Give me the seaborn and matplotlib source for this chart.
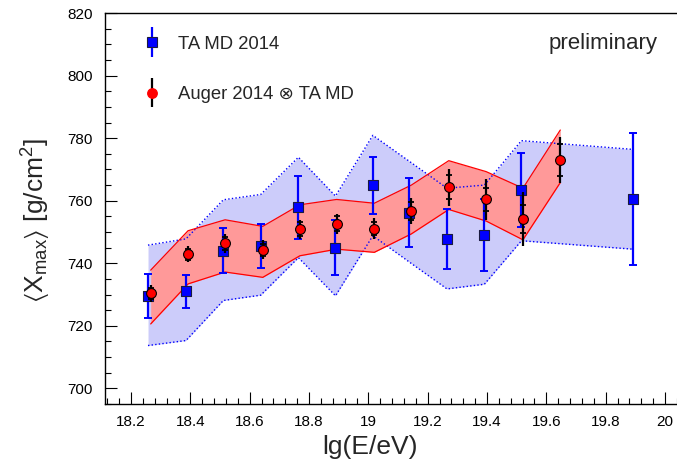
import numpy as np
import pandas as pd
import matplotlib
matplotlib.use("Agg")
import matplotlib.pyplot as plt
from matplotlib.ticker import MultipleLocator
from matplotlib.container import ErrorbarContainer
from matplotlib.legend_handler import HandlerErrorbar
import seaborn as sns

# TA MD 2014: mean Xmax per energy bin with total errors and systematic band
ta_lg = [18.257, 18.385, 18.511, 18.637, 18.764, 18.889, 19.015, 19.138, 19.265, 19.391, 19.516, 19.893]
ta_xmax = [729.6, 731.1, 744.0, 745.6, 757.9, 745.0, 764.9, 756.2, 747.8, 749.0, 763.4, 760.5]
ta_err = [7.0, 5.3, 7.2, 7.0, 10.0, 8.7, 9.0, 11.0, 9.5, 11.4, 11.8, 21.0]
ta_sys_hi = [745.8, 747.8, 760.3, 762.0, 773.9, 761.5, 780.9, 772.6, 764.0, 765.0, 779.2, 776.4]
ta_sys_lo = [713.7, 715.3, 728.1, 729.8, 741.8, 729.6, 748.8, 740.4, 731.8, 733.3, 747.2, 744.5]

# Auger 2014 folded with TA MD detector response
au_lg = [18.266, 18.392, 18.517, 18.644, 18.769, 18.893, 19.020, 19.145, 19.271, 19.397, 19.521, 19.647]
au_xmax = [730.4, 742.9, 746.4, 744.3, 750.9, 752.7, 751.1, 756.7, 764.3, 760.5, 754.2, 773.0]
au_err_tot = [2.7, 2.5, 3.0, 3.0, 3.0, 3.2, 3.4, 4.2, 5.9, 6.6, 8.7, 7.3]
au_err_stat = [1.8, 1.8, 2.0, 2.0, 2.2, 2.3, 2.2, 2.8, 3.9, 3.7, 4.5, 5.2]
au_sys_hi = [737.8, 750.4, 753.9, 751.8, 758.7, 760.4, 759.2, 765.0, 772.8, 769.3, 764.0, 782.6]
au_sys_lo = [720.6, 733.4, 737.2, 735.5, 742.4, 744.5, 743.5, 749.4, 757.2, 753.5, 747.5, 765.8]

x_ticks = [18.2, 18.4, 18.6, 18.8, 19.0, 19.2, 19.4, 19.6, 19.8, 20.0]
x_ticklabels = ["18.2", "18.4", "18.6", "18.8", "19", "19.2", "19.4", "19.6", "19.8", "20"]
y_ticks = [700, 720, 740, 760, 780, 800, 820]

ta = pd.DataFrame({"lg": ta_lg, "xmax": ta_xmax, "err": ta_err,
                   "hi": ta_sys_hi, "lo": ta_sys_lo})
au = pd.DataFrame({"lg": au_lg, "xmax": au_xmax, "tot": au_err_tot,
                   "stat": au_err_stat, "hi": au_sys_hi, "lo": au_sys_lo})

sns.set_theme(style="ticks")
plt.rcParams["font.family"] = ["Liberation Sans", "DejaVu Sans"]
plt.rcParams["mathtext.fontset"] = "custom"
plt.rcParams["mathtext.rm"] = "Liberation Sans"
plt.rcParams["mathtext.it"] = "Liberation Sans"
plt.rcParams["mathtext.fallback"] = "stixsans"
plt.rcParams["axes.linewidth"] = 1.0
plt.rcParams["axes.edgecolor"] = "black"

fig = plt.figure(figsize=(6.77, 4.66), dpi=100)
ax = fig.add_axes([0.1551, 0.1330, 0.871, 0.839])

BLUE = "#0000ff"
RED = "#ff0000"

# systematic bands
ax.fill_between(ta["lg"], ta["lo"], ta["hi"], color="#ccccfa", lw=0, zorder=1)
ax.fill_between(au["lg"], au["lo"], au["hi"], color="#ff9999", lw=0, zorder=2)
for col in ("hi", "lo"):
    sns.lineplot(data=ta, x="lg", y=col, ax=ax, color=BLUE, lw=1.0,
                 sort=False, zorder=3, linestyle=(0, (1, 1.6)))
    sns.lineplot(data=au, x="lg", y=col, ax=ax, color=RED, lw=0.9,
                 sort=False, zorder=3)

# TA MD points
ax.errorbar(ta["lg"], ta["xmax"], yerr=ta["err"], fmt="none", ecolor=BLUE,
            elinewidth=1.6, capsize=3, capthick=1.4, zorder=4)
sns.scatterplot(data=ta, x="lg", y="xmax", ax=ax, marker="s", s=46,
                color=BLUE, edgecolor="#1a1a40", linewidth=0.8, zorder=5)

# Auger folded points: total error line with stat caps
ax.errorbar(au["lg"], au["xmax"], yerr=au["tot"], fmt="none", ecolor="black",
            elinewidth=1.6, capsize=0, zorder=6)
ax.errorbar(au["lg"], au["xmax"], yerr=au["stat"], fmt="none", ecolor="black",
            elinewidth=0, capsize=2.5, capthick=1.3, zorder=6)
sns.scatterplot(data=au, x="lg", y="xmax", ax=ax, marker="o", s=50,
                color=RED, edgecolor="black", linewidth=0.8, zorder=7)

ax.set_xlim(18.112, 20.1)
ax.set_ylim(695, 820)
ax.set_xticks(x_ticks)
ax.set_xticklabels(x_ticklabels)
ax.set_yticks(y_ticks)
ax.xaxis.set_minor_locator(MultipleLocator(0.04))
ax.yaxis.set_minor_locator(MultipleLocator(5))
ax.tick_params(which="both", direction="in", width=0.8, colors="black",
               labelsize=11, top=False, right=False)
ax.tick_params(which="major", length=8.5)
ax.tick_params(which="minor", length=4.3)
ax.tick_params(axis="x", pad=8)
ax.tick_params(axis="y", pad=9)
for sp in ax.spines.values():
    sp.set_visible(True)
    sp.set_color("black")

ax.set_xlabel("lg(E/eV)", fontsize=19)
ax.xaxis.set_label_coords(0.449, -0.08)
ax.set_ylabel(r"$\langle$X$_{\rm max}\rangle$ [g/cm$^{2}$]", fontsize=19)
ax.yaxis.set_label_coords(-0.088, 0.47)

ax.text(0.9377, 0.921, "preliminary", transform=ax.transAxes,
        ha="right", va="center", fontsize=16)

# legend entries
h_ta = ax.errorbar([np.nan], [np.nan], yerr=[1], fmt="s", color=BLUE, ms=6.8,
                   mec="#1a1a40", mew=0.8, elinewidth=1.6, capsize=0)
h_au = ax.errorbar([np.nan], [np.nan], yerr=[1], fmt="o", mfc=RED, mec=RED,
                   ms=6.8, ecolor="black", elinewidth=1.6, capsize=0)
leg = ax.legend([h_ta, h_au], ["TA MD 2014", "Auger 2014 \u2297 TA MD"],
                loc="upper left", bbox_to_anchor=(0.064, 0.942),
                frameon=False, fontsize=13.3, handlelength=1.0,
                handletextpad=0.9, labelspacing=1.8, borderpad=0,
                borderaxespad=0,
                handler_map={ErrorbarContainer: HandlerErrorbar(yerr_size=0.8)})

fig.savefig("out.png", dpi=100)
